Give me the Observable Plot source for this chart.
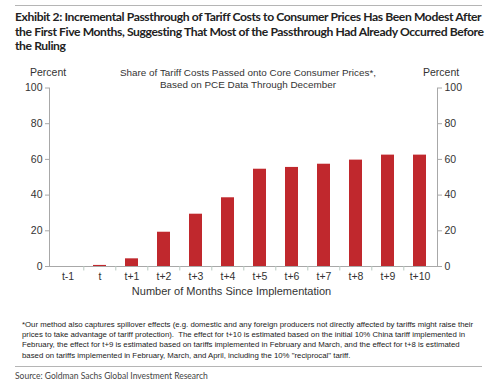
<!DOCTYPE html>
<html><head><meta charset="utf-8">
<script src="https://cdn.jsdelivr.net/npm/d3@7"></script>
<script src="https://cdn.jsdelivr.net/npm/@observablehq/plot@0.6"></script>
<style>
body{margin:0;background:#fff;}
#wrap{position:relative;width:500px;height:386px;overflow:hidden;font-family:"Liberation Sans",Arial,sans-serif;}
.hr{position:absolute;left:15px;width:467px;height:0;border-top:1.5px solid #b5b5b5;}
#title{position:absolute;left:15px;top:10px;width:490px;font-family:Lato,"Open Sans",sans-serif;font-weight:bold;font-size:12.15px;letter-spacing:-0.4px;line-height:14.6px;color:#222;white-space:nowrap;}
.lab{position:absolute;font-size:10.5px;color:#333;white-space:nowrap;}
#sub{position:absolute;left:98px;width:300px;top:67px;text-align:center;font-size:9.9px;line-height:11.5px;color:#333;white-space:nowrap;}
#note{position:absolute;left:22px;top:320px;font-size:7.8px;line-height:10.2px;color:#222;white-space:pre;}
#src{position:absolute;left:15px;top:371px;font-family:Lato,"Open Sans",sans-serif;font-size:8.5px;color:#444;}
#chart{position:absolute;left:0;top:60px;}
</style></head>
<body><div id="wrap">
<div class="hr" style="top:5px"></div>
<div id="title">Exhibit 2: Incremental Passthrough of Tariff Costs to Consumer Prices Has Been Modest After<br>the First Five Months, Suggesting That Most of the Passthrough Had Already Occurred Before<br>the Ruling</div>
<div class="lab" style="left:30px;top:66px">Percent</div>
<div class="lab" style="left:423px;top:66px">Percent</div>
<div id="sub">Share of Tariff Costs Passed onto Core Consumer Prices*,<br>Based on PCE Data Through December</div>
<div id="chart"></div>
<div id="note">*Our method also captures spillover effects (e.g. domestic and any foreign producers not directly affected by tariffs might raise their
prices to take advantage of tariff protection).  The effect for t+10 is estimated based on the initial 10% China tariff implemented in
February, the effect for t+9 is estimated based on tariffs implemented in February and March, and the effect for t+8 is estimated
based on tariffs implemented in February, March, and April, including the 10% "reciprocal" tariff.</div>
<div class="hr" style="top:366px"></div>
<div id="src">Source: Goldman Sachs Global Investment Research</div>
</div>
<script>
const months = ["t-1","t","t+1","t+2","t+3","t+4","t+5","t+6","t+7","t+8","t+9","t+10"];
const shares = [0, 0.6, 4.3, 19.2, 29.3, 38.5, 54.5, 55.5, 57.3, 59.6, 62.4, 62.4];
const yTicks = [0, 20, 40, 60, 80, 100];
const data = months.map((m, i) => ({month: m, share: shares[i]}));

const axisColor = "#a8a8a8";
const chart = Plot.plot({
  width: 500, height: 245,
  marginLeft: 49, marginRight: 63, marginTop: 27.5, marginBottom: 39,
  style: {fontFamily: "'Liberation Sans', Arial, sans-serif", fontSize: "10.5px", color: "#333"},
  x: {domain: months, paddingInner: 0.6, paddingOuter: 0.3, label: null},
  y: {domain: [0, 100], label: null},
  marks: [
    Plot.barY(data, {x: "month", y: "share", fill: "#c0282d"}),
    Plot.frame({anchor: "left", stroke: axisColor}),
    Plot.frame({anchor: "right", stroke: axisColor}),
    Plot.ruleY([0], {stroke: axisColor}),
    Plot.axisY(yTicks, {anchor: "left", tickSize: 4, tickPadding: 3, stroke: axisColor, fill: "#333", fontSize: 10.5}),
    Plot.axisY(yTicks, {anchor: "right", tickSize: 4, tickPadding: 3, stroke: axisColor, fill: "#333", fontSize: 10.5}),
    Plot.ruleX(months.slice(1), {x: d => d, y1: 0, y2: -2.5, dx: -16.2, stroke: "#b8c8c0"}),
    Plot.axisX({tickSize: 0, tickPadding: 6, fill: "#333", fontSize: 10.5}),
    Plot.text(["Number of Months Since Implementation"], {frameAnchor: "bottom", dy: 28, dx: -12, fontSize: 11, fill: "#333"})
  ]
});
document.getElementById("chart").appendChild(chart);
</script>
</body></html>
